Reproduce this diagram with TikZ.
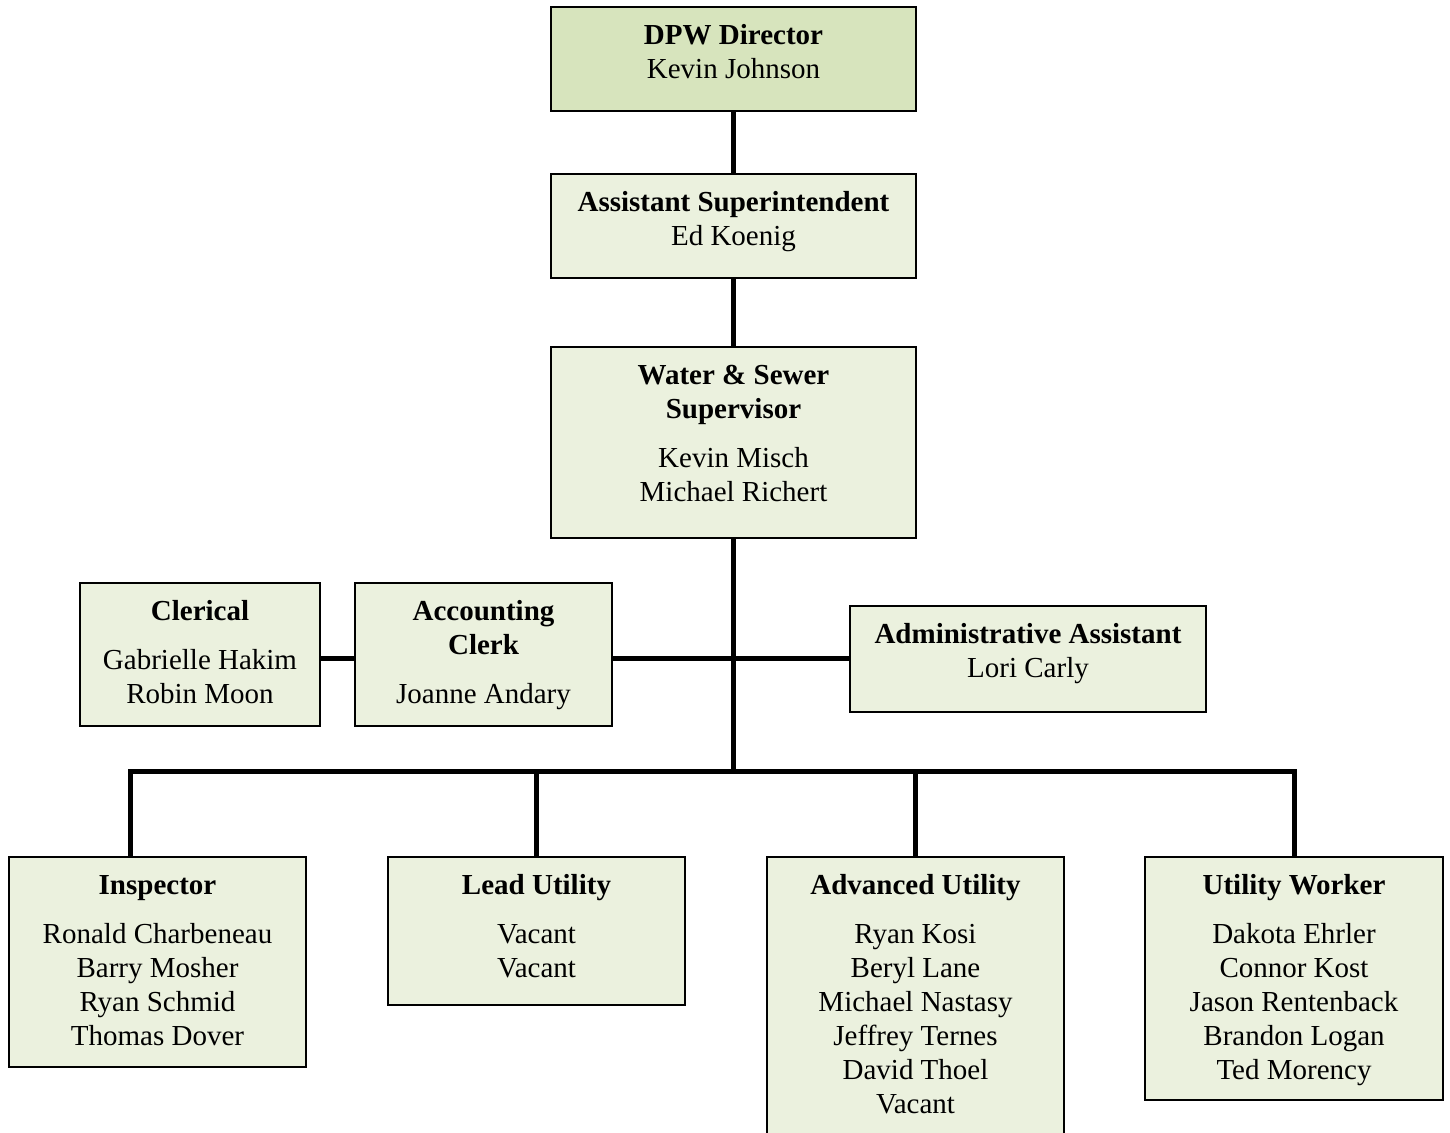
\documentclass[tikz,border=0pt]{standalone}
\usepackage{fontspec}
\setmainfont{Liberation Serif}
\definecolor{topfill}{HTML}{D7E4BD}
\definecolor{boxfill}{HTML}{EBF1DE}
\tikzset{
  obx/.style={draw=black, line width=1.2pt, fill=boxfill, inner sep=0pt, outer sep=0pt,
    font=\fontsize{14.5}{17}\selectfont},
  topbox/.style={fill=topfill},
  conn/.style={draw=black, line width=2.5pt},
}
\newcommand\obox[7][]{\node[obx,#1] (#2) at ({(#3+#5)/2},{(#4+#6)/2})
  {\parbox[c][\dimexpr #6pt/2-#4pt/2\relax][t]{\dimexpr #5pt/2-#3pt/2\relax}{\centering\vspace*{6.6pt}\strut #7}};}
\begin{document}
\begin{tikzpicture}[x=0.5pt,y=-0.5pt]
\clip (0,0) rectangle (1450,1132);
\fill[white] (0,0) rectangle (1450,1132);
% boxes
\obox[topbox]{dpw}{551}{7}{916}{111}{\textbf{DPW Director}\\Kevin Johnson}
\obox{asst}{551}{174}{916}{278}{\textbf{Assistant Superintendent}\\Ed Koenig}
\obox{ws}{551}{347}{916}{538}{\textbf{Water \& Sewer}\\\textbf{Supervisor}\\[7.5pt]Kevin Misch\\Michael Richert}
\obox{cler}{80}{583}{320}{726}{\textbf{Clerical}\\[7.5pt]Gabrielle Hakim\\Robin Moon}
\obox{acct}{355}{583}{612}{726}{\textbf{Accounting}\\\textbf{Clerk}\\[7.5pt]Joanne Andary}
\obox{admin}{850}{606}{1206}{712}{\textbf{Administrative Assistant}\\Lori Carly}
\obox{insp}{9}{857}{306}{1067}{\textbf{Inspector}\\[7.5pt]Ronald Charbeneau\\Barry Mosher\\Ryan Schmid\\Thomas Dover}
\obox{lead}{388}{857}{685}{1005}{\textbf{Lead Utility}\\[7.5pt]Vacant\\Vacant}
\obox{adv}{767}{857}{1064}{1145}{\textbf{Advanced Utility}\\[7.5pt]Ryan Kosi\\Beryl Lane\\Michael Nastasy\\Jeffrey Ternes\\David Thoel\\Vacant}
\obox{util}{1145}{857}{1443}{1100}{\textbf{Utility Worker}\\[7.5pt]Dakota Ehrler\\Connor Kost\\Jason Rentenback\\Brandon Logan\\Ted Morency}
% connectors
\coordinate (busy) at (0,771);
\coordinate (midy) at (0,658);
\coordinate (bus) at (ws.south |- busy);
\coordinate (inspdrop) at (130,857);
\draw[conn] (dpw.south) -- (asst.north);
\draw[conn] (asst.south) -- (ws.north);
\draw[conn] (ws.south) -- (bus);
\draw[conn] (cler.east |- midy) -- (acct.west |- midy);
\draw[conn] (acct.east |- midy) -- (admin.west |- midy);
\draw[conn, line join=miter] (inspdrop) -- (inspdrop |- bus) -- (util.north |- bus) -- (util.north);
\draw[conn] (lead.north |- bus) -- (lead.north);
\draw[conn] (adv.north |- bus) -- (adv.north);
\end{tikzpicture}
\end{document}
